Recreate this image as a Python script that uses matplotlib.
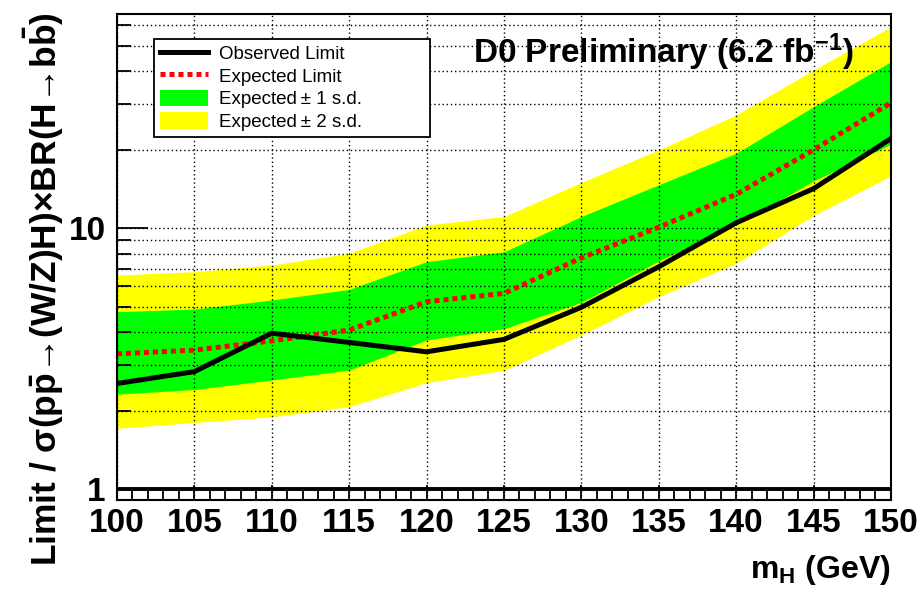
import numpy as np
import matplotlib
matplotlib.use("Agg")
import matplotlib.pyplot as plt
from matplotlib.lines import Line2D
from matplotlib.patches import Patch
from matplotlib.ticker import FixedLocator, NullFormatter

plt.rcParams['font.family'] = ['Liberation Sans', 'DejaVu Sans']
plt.rcParams['mathtext.fontset'] = 'custom'
plt.rcParams['mathtext.rm'] = 'Liberation Sans'
plt.rcParams['mathtext.bf'] = 'Liberation Sans:bold'
plt.rcParams['mathtext.it'] = 'Liberation Sans:italic'

# ---- data ----
mass = [100, 105, 110, 115, 120, 125, 130, 135, 140, 145, 150]
observed = [2.54, 2.82, 3.96, 3.65, 3.36, 3.75, 4.98, 7.12, 10.5, 14.2, 22.1]
expected = [3.30, 3.41, 3.70, 4.07, 5.23, 5.63, 7.70, 10.1, 13.5, 20.0, 30.3]
exp_p1 = [4.79, 4.90, 5.31, 5.83, 7.45, 8.13, 11.1, 14.7, 19.4, 29.3, 43.6]
exp_m1 = [2.31, 2.41, 2.62, 2.86, 3.73, 4.12, 5.20, 7.50, 10.3, 15.2, 21.0]
exp_p2 = [6.62, 6.82, 7.23, 8.02, 10.3, 11.1, 15.0, 20.0, 27.2, 40.5, 59.3]
exp_m2 = [1.71, 1.80, 1.89, 2.07, 2.56, 2.85, 3.90, 5.47, 7.34, 11.2, 15.9]
x_ticks = [100, 105, 110, 115, 120, 125, 130, 135, 140, 145, 150]
y_major = [1, 10]

fig = plt.figure(figsize=(9.21, 5.89), dpi=100)
ax = fig.add_axes([0.127, 0.151, 0.8404, 0.8252])

ax.fill_between(mass, exp_m2, exp_p2, color='#ffff00', lw=0, zorder=1)
ax.fill_between(mass, exp_m1, exp_p1, color='#00ff00', lw=0, zorder=2)
ax.plot(mass, expected, color='#ff0000', lw=3.6, ls=(0, (1.0, 0.8)),
        dash_capstyle='butt', zorder=4)
ax.plot(mass, observed, color='black', lw=3.6, zorder=5, solid_joinstyle='miter')
ax.axhline(1.0, color='black', lw=2.8, zorder=6)

ax.set_yscale('log')
ax.set_xlim(100, 150)
ax.set_ylim(0.907, 66.4)

ax.xaxis.set_major_locator(FixedLocator(x_ticks))
ax.xaxis.set_minor_locator(FixedLocator(np.arange(100, 151, 1)))
ax.yaxis.set_major_locator(FixedLocator(y_major))
yminor = [v * d for d in (1, 10) for v in range(2, 10) if v * d < 66]
ax.yaxis.set_minor_locator(FixedLocator(yminor))
ax.yaxis.set_minor_formatter(NullFormatter())
ax.set_xticklabels([str(v) for v in x_ticks])
ax.set_yticklabels([str(v) for v in y_major])

ax.tick_params(axis='both', which='both', direction='in', top=False, right=False,
               labelsize=24, width=1.3)
ax.tick_params(axis='x', which='major', length=11, pad=6)
ax.tick_params(axis='x', which='minor', length=7)
ax.tick_params(axis='y', which='major', length=22, pad=8)
ax.tick_params(axis='y', which='minor', length=10)
for lab in ax.get_xticklabels() + ax.get_yticklabels():
    lab.set_fontweight('bold')

ax.grid(True, which='major', axis='x', color='black', ls=(0, (1, 2)), lw=1.0)
ax.grid(True, which='both', axis='y', color='black', ls=(0, (1, 2)), lw=1.0)
ax.set_axisbelow(False)
for g in ax.get_xgridlines() + ax.get_ygridlines():
    g.set_zorder(3)
for s in ax.spines.values():
    s.set_linewidth(1.5)
    s.set_zorder(7)

handles = [
    Line2D([], [], color='black', lw=3.6),
    Line2D([], [], color='#ff0000', lw=3.6, ls=(0, (1.0, 0.8)), dash_capstyle='butt'),
    Patch(facecolor='#00ff00', edgecolor='none'),
    Patch(facecolor='#ffff00', edgecolor='none'),
]
labels = ['Observed Limit', 'Expected Limit', 'Expected\u2009\u00b1 1 s.d.', 'Expected\u2009\u00b1 2 s.d.']
leg = ax.legend(handles, labels, loc='upper left',
                bbox_to_anchor=(0.048, 0.0, (430 - 154) / 774, 0.949), mode='expand',
                fontsize=13.5, frameon=True, fancybox=False, framealpha=1,
                edgecolor='black', handlelength=2.6, handleheight=0.95,
                handletextpad=0.55, labelspacing=0.22, borderpad=0.3,
                borderaxespad=0)
leg.get_frame().set_linewidth(1.3)
leg.set_zorder(10)

fig.text(473 / 921, 1 - 63 / 589, 'D0 Preliminary (6.2 fb$^{\\mathbf{-1}}$)',
         fontsize=24, fontweight='bold', ha='left', va='baseline')

fig.text(44 / 921, 1 - 289 / 589,
         'Limit / \u03c3(p$\\mathbf{\\bar{p}}$\u2192(W/Z)H)\u00d7BR(H\u2192b$\\mathbf{\\bar{b}}$)',
         fontsize=25.5, fontweight='bold', rotation=90, ha='center', va='center')

fig.text(890 / 921, 1 - 578 / 589, r'$\mathbf{m_{H}}$ (GeV)', fontsize=23,
         fontweight='bold', ha='right', va='baseline')

fig.savefig('out.png', dpi=100)
